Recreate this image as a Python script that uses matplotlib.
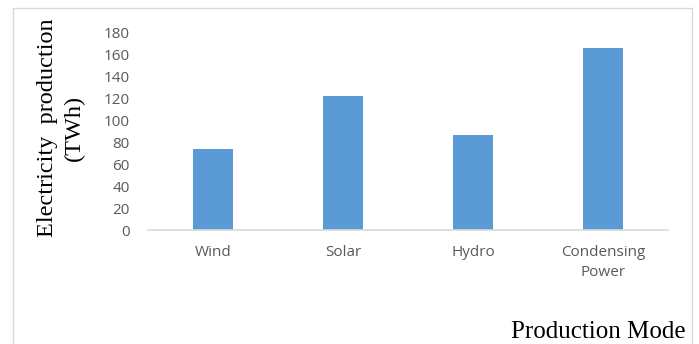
import matplotlib.pyplot as plt
from matplotlib.patches import Rectangle

# data
modes = ['Wind', 'Solar', 'Hydro', 'Condensing\nPower']
production = [74, 122, 87, 166]
yticks = [0, 20, 40, 60, 80, 100, 120, 140, 160, 180]

grey = '#595959'

fig = plt.figure(figsize=(6.99, 3.44), dpi=100)
ax = fig.add_axes([148/699, 1-230/344, 520/699, (230-32.7)/344])

ax.bar(range(len(modes)), production, width=0.31, color='#5B9BD5')
ax.set_xlim(-0.5, 3.5)
ax.set_ylim(0, 180)
ax.set_yticks(yticks)
ax.set_xticks(range(len(modes)))
ax.set_xticklabels(modes, fontsize=11, color=grey, family='Open Sans', linespacing=1.4)
ax.set_yticklabels([str(v) for v in yticks], fontsize=11, color=grey, family='Open Sans')
ax.tick_params(axis='both', length=0)
ax.tick_params(axis='y', pad=13)
ax.tick_params(axis='x', pad=11)

for s in ['top', 'right', 'left']:
    ax.spines[s].set_visible(False)
ax.spines['bottom'].set_color('#d9d9d9')
ax.spines['bottom'].set_linewidth(1.2)

# chart border
fig.patches.append(Rectangle((13/699, -0.1), (692-13)/699, 1.1 - 8/344,
                             transform=fig.transFigure, fill=False,
                             edgecolor='#d9d9d9', linewidth=1))

fig.text(61/699, 1-128/344, 'Electricity  production\n(TWh)', rotation=90,
         ha='center', va='center', family='Liberation Serif', fontsize=17.5,
         linespacing=1.3)
fig.text(686/699, 1-332/344, 'Production Mode', ha='right', va='center',
         family='Liberation Serif', fontsize=18)

fig.savefig('out.png', dpi=100)
